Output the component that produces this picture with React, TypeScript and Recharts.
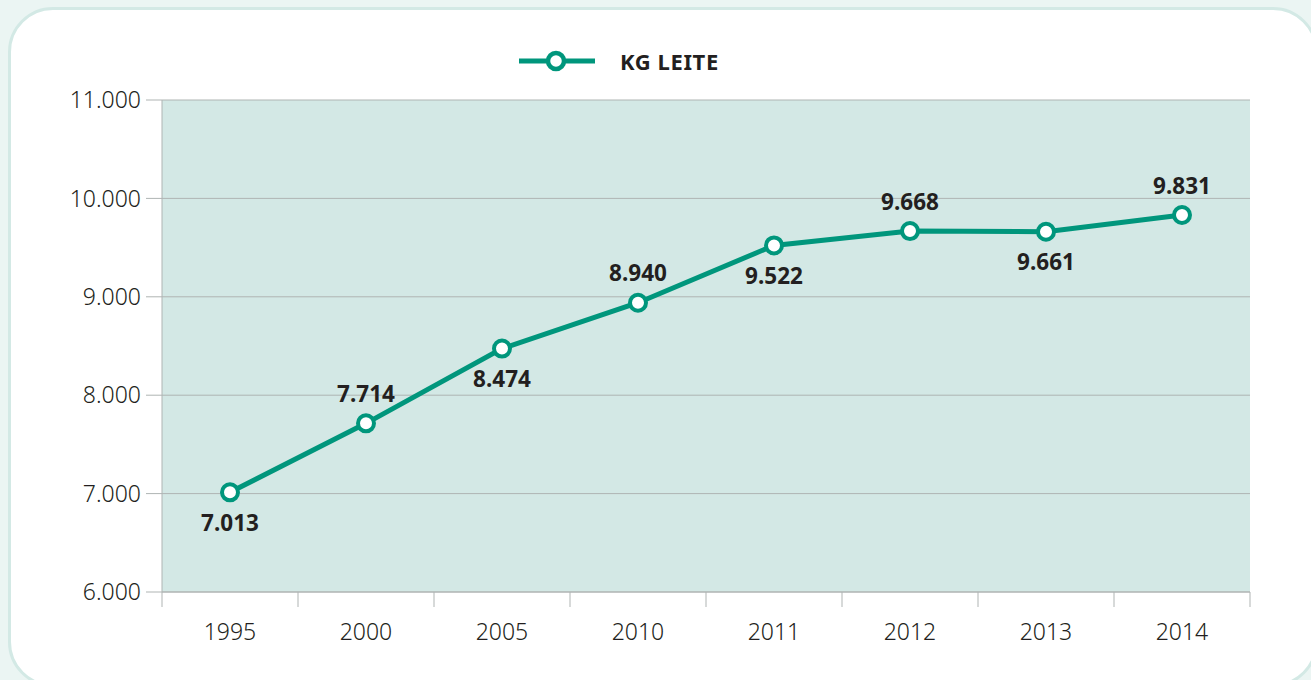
import React from "react";
import { LineChart, Line, XAxis, YAxis, CartesianGrid, LabelList } from "recharts";

const years = ["1995", "2000", "2005", "2010", "2011", "2012", "2013", "2014"];
const kgLeite = [7013, 7714, 8474, 8940, 9522, 9668, 9661, 9831];
const yTicks = [6000, 7000, 8000, 9000, 10000, 11000];
const seriesName = "KG LEITE";

const data = years.map((y, i) => ({ year: y, value: kgLeite[i] }));

const GREEN = "#00967c";
const PLOT_BG = "#d3e8e5";
const GRID = "#afb4b3";
const TEXT = "#231f20";
const FONT = "'Noto Sans', 'DejaVu Sans', sans-serif";

const W = 1311;
const H = 680;
const M = { top: 100, right: 61, bottom: 48, left: 0 };
const YW = 162;
const PLOT_W = W - M.right - YW;
const BAND = PLOT_W / years.length;

const fmt = (v: number) => String(v).replace(/\B(?=(\d{3})+(?!\d))/g, ".");

const XTick = (props: any) => {
  const { x, y, payload, index } = props;
  const top = y - 8;
  return (
    <g>
      <line x1={x - BAND / 2} x2={x - BAND / 2} y1={top} y2={top + 15} stroke={GRID} strokeWidth={1} />
      {index === years.length - 1 && (
        <line x1={x + BAND / 2} x2={x + BAND / 2} y1={top} y2={top + 15} stroke={GRID} strokeWidth={1} />
      )}
      <text x={x} y={top + 39} textAnchor="middle" dominantBaseline="central" fill={TEXT} fontFamily={FONT} fontSize={23} fontWeight={300}>
        {payload.value}
      </text>
    </g>
  );
};

const ValueLabel = (props: any) => {
  const { x, y, value, index } = props;
  const above = index % 2 === 1;
  return (
    <text x={x} y={y + (above ? -30 : 30)} textAnchor="middle" dominantBaseline="central" fill={TEXT} fontFamily={FONT} fontSize={22.5} fontWeight={700}>
      {fmt(value)}
    </text>
  );
};

const Dot = (props: any) => {
  const { cx, cy } = props;
  return <circle cx={cx} cy={cy} r={8} fill="#ffffff" stroke={GREEN} strokeWidth={4} />;
};

export default function App() {
  return (
    <div style={{ position: "fixed", left: 0, top: 0, width: W, height: H, overflow: "hidden", background: "#ebf5f3" }}>
      <div
        style={{
          position: "absolute",
          left: 8,
          top: 7,
          width: 1310,
          height: 680,
          borderRadius: 45,
          border: "3px solid #d3e9e5",
          background: "#ffffff",
          boxSizing: "border-box",
        }}
      />
      <div style={{ position: "absolute", left: 519, top: 47, height: 28, display: "flex", alignItems: "center" }}>
        <svg width={76} height={28}>
          <line x1={0} x2={76} y1={14} y2={14} stroke={GREEN} strokeWidth={5} />
          <circle cx={37} cy={14} r={8} fill="#fff" stroke={GREEN} strokeWidth={4.5} />
        </svg>
        <span style={{ marginLeft: 25, fontFamily: FONT, fontWeight: 700, fontSize: 22, color: TEXT, letterSpacing: 0.6 }}>{seriesName}</span>
      </div>
      <div style={{ position: "absolute", left: 0, top: 0 }}>
        <LineChart width={W} height={H} data={data} margin={M}>
          <CartesianGrid vertical={false} stroke={GRID} fill={PLOT_BG} fillOpacity={1} />
          <XAxis
            dataKey="year"
            padding={{ left: BAND / 2, right: BAND / 2 }}
            axisLine={{ stroke: GRID }}
            tickLine={false}
            tick={<XTick />}
            height={40}
            interval={0}
          />
          <YAxis
            domain={[6000, 11000]}
            ticks={yTicks}
            width={YW}
            axisLine={{ stroke: GRID }}
            tickLine={{ stroke: GRID }}
            tickSize={16}
            tickMargin={5}
            tickFormatter={fmt}
            tick={{ fill: TEXT, fontFamily: FONT, fontSize: 23, fontWeight: 300 }}
            interval={0}
          />
          <YAxis yAxisId="r" orientation="right" width={0} tick={false} tickLine={false} axisLine={{ stroke: GRID }} />
          <Line
            type="linear"
            dataKey="value"
            stroke={GREEN}
            strokeWidth={5}
            dot={<Dot />}
            activeDot={false}
            isAnimationActive={false}
          >
            <LabelList dataKey="value" content={<ValueLabel />} />
          </Line>
        </LineChart>
      </div>
    </div>
  );
}
